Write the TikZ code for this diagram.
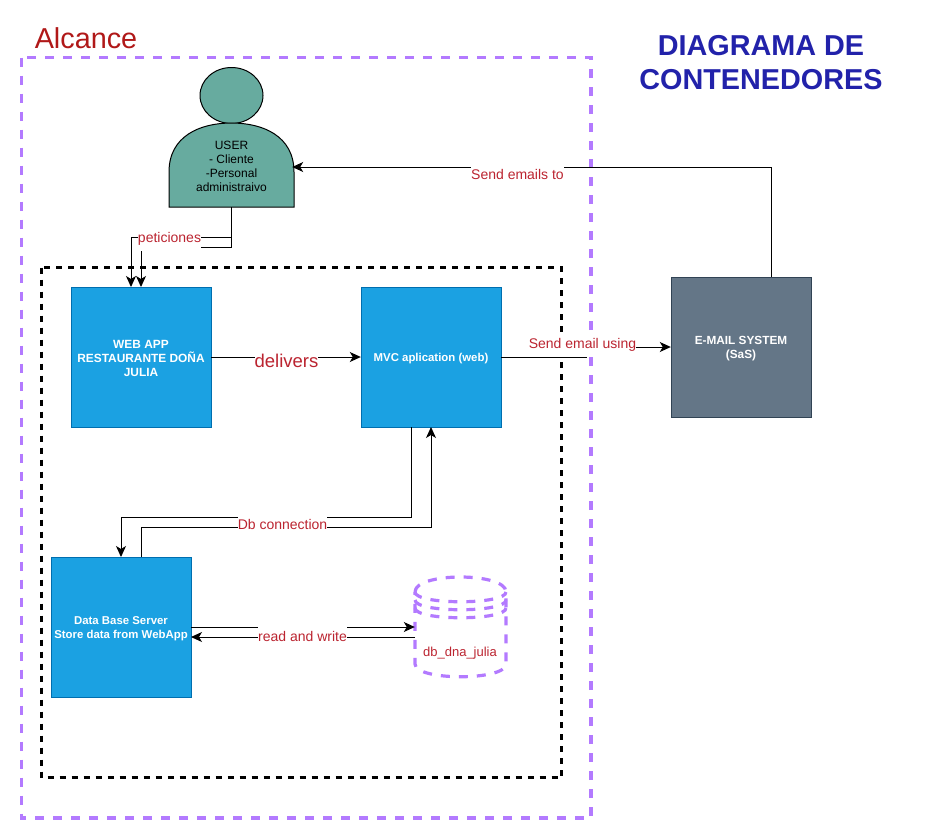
\documentclass[tikz,border=0pt]{standalone}
\usepackage{fontspec}
\setmainfont{Liberation Sans}
\usetikzlibrary{arrows.meta}
\definecolor{boxblue}{HTML}{1BA1E2}
\definecolor{boxblueline}{HTML}{006EAF}
\definecolor{boxgrey}{HTML}{647687}
\definecolor{boxgreyline}{HTML}{314354}
\definecolor{userteal}{HTML}{67AB9F}
\definecolor{scopepurple}{HTML}{B37AFF}
\definecolor{labelred}{HTML}{BB2430}
\definecolor{alcancered}{HTML}{B01818}
\definecolor{titleblue}{HTML}{2222AA}
\tikzset{
    container/.style={draw=boxblueline,fill=boxblue,minimum width=140,minimum height=140,inner sep=0pt},
    boxtext/.style={text=white,align=center,inner sep=0pt,yshift=-2,font=\fontsize{11.4}{14}\selectfont\bfseries},
    flow/.style={line width=1,-{Stealth[length=11,width=10,inset=3]}},
    flowlabel/.style={fill=white,text=labelred,inner sep=0pt,minimum height=18,font=\fontsize{14}{16}\selectfont},
    purpledash/.style={draw=scopepurple,line width=3.2,dash pattern=on 9 off 9},
}
\begin{document}
\begin{tikzpicture}[x=1pt,y=-1pt]
    \useasboundingbox (0,0) rectangle (932,839);

    % scopes
    \draw[purpledash] (21.5,57.5) rectangle (591,818);
    \draw[line width=2.2,dash pattern=on 6 off 6] (41.5,267.5) rectangle (561.5,777.5);

    % titles
    \node (alcance) at (86,38) [text=alcancered,inner sep=0pt,font=\fontsize{28.8}{30}\selectfont] {Alcance};
    \node (titulo) at (761,62.5) [text=titleblue,align=center,inner sep=0pt,font=\fontsize{28.8}{34}\selectfont\bfseries] {DIAGRAMA DE\\CONTENEDORES};

    % user
    \draw[fill=userteal,line width=1] (231.5,95.5) ellipse [x radius=31.5,y radius=28];
    \draw[fill=userteal,line width=1] (169,207) -- (169,172) .. controls (169,136) and (200,123) .. (231.5,123)
        .. controls (263,123) and (294,136) .. (294,172) -- (294,207) -- cycle;
    \node[label={[align=center,inner sep=0pt,yshift=1,font=\fontsize{12}{14}\selectfont]center:{USER\\- Cliente\\-Personal\\administraivo}}]
        (user) at (231.5,167) [minimum width=121,minimum height=80,inner sep=0pt] {};

    % containers
    \node[container,label={[boxtext,font=\fontsize{11.9}{14}\selectfont\bfseries,yshift=1]center:{WEB APP\\RESTAURANTE DOÑA\\JULIA}}] (webapp) at (141,357) {};
    \node[container,label={[boxtext]center:{MVC aplication (web)}}] (mvc) at (431,357) {};
    \node[container,label={[boxtext]center:{Data Base Server\\Store data from WebApp}}] (dbserver) at (121,627) {};
    \node[container,fill=boxgrey,draw=boxgreyline,label={[boxtext,font=\fontsize{11.8}{14}\selectfont\bfseries]center:{E-MAIL SYSTEM\\(SaS)}}] (email) at (741,347) {};

    % database
    \node (dbjulia) at (460.5,627) [minimum width=91,minimum height=100,inner sep=0pt] {};
    \draw[purpledash] (415,592) .. controls (415,572) and (506,572) .. (506,592)
        -- (506,664) .. controls (506,681) and (415,681) .. (415,664) -- cycle;
    \draw[purpledash] (415,592) .. controls (415,605) and (506,605) .. (506,592);
    \draw[purpledash] (415,600) .. controls (415,613) and (506,613) .. (506,600);
    \draw[purpledash] (415,608) .. controls (415,621) and (506,621) .. (506,608);
    \node (dblabel) at (460,653) [text=labelred,inner sep=0pt,font=\fontsize{13}{15}\selectfont] {db\_dna\_julia};

    % free ends
    \coordinate (webleft) at (131,287);
    \coordinate (webright) at (141,287);
    \coordinate (mvcleft) at (411,427);
    \coordinate (mvcright) at (431,427);
    \coordinate (dbserverleft) at (121,557);
    \coordinate (dbserverright) at (141,557);
    \coordinate (dbserverback) at (191,637);
    \coordinate (dbjuliaback) at (415,637);
    \coordinate (emailtop) at (771,277);

    % connectors
    \draw[flow] (user.south) -- (231.5,237) -- (131,237) -- (webleft);
    \draw[flow] (user.south) -- (231.5,247) -- (141,247) -- (webright);
    \draw[flow] (webapp.east) -- (mvc.west);
    \draw[flow] (mvc.east) -- (586,357) -- (586,347) -- (email.west);
    \draw[flow] (emailtop) -- (771,167) -- (user.east);
    \draw[flow] (mvcleft) -- (411,517) -- (121,517) -- (dbserverleft);
    \draw[flow] (dbserverright) -- (141,527) -- (431,527) -- (mvcright);
    \draw[flow] (dbserver.east) -- (dbjulia.west);
    \draw[flow] (dbjuliaback) -- (dbserverback);

    % labels
    \node[flowlabel,minimum height=24] (peticioneslabel) at (169.5,239) {peticiones};
    \node[flowlabel,minimum height=24,font=\fontsize{18.5}{20}\selectfont] (deliverslabel) at (286.5,361) {delivers};
    \node[flowlabel,minimum height=24] (sendusinglabel) at (582.5,345) {Send email using};
    \node[flowlabel] (sendtolabel) at (517.5,174) {Send emails to};
    \node[flowlabel] (dblinklabel) at (282.5,524) {Db connection};
    \node[flowlabel] (readwritelabel) at (302.5,636) {read and write};
\end{tikzpicture}
\end{document}
